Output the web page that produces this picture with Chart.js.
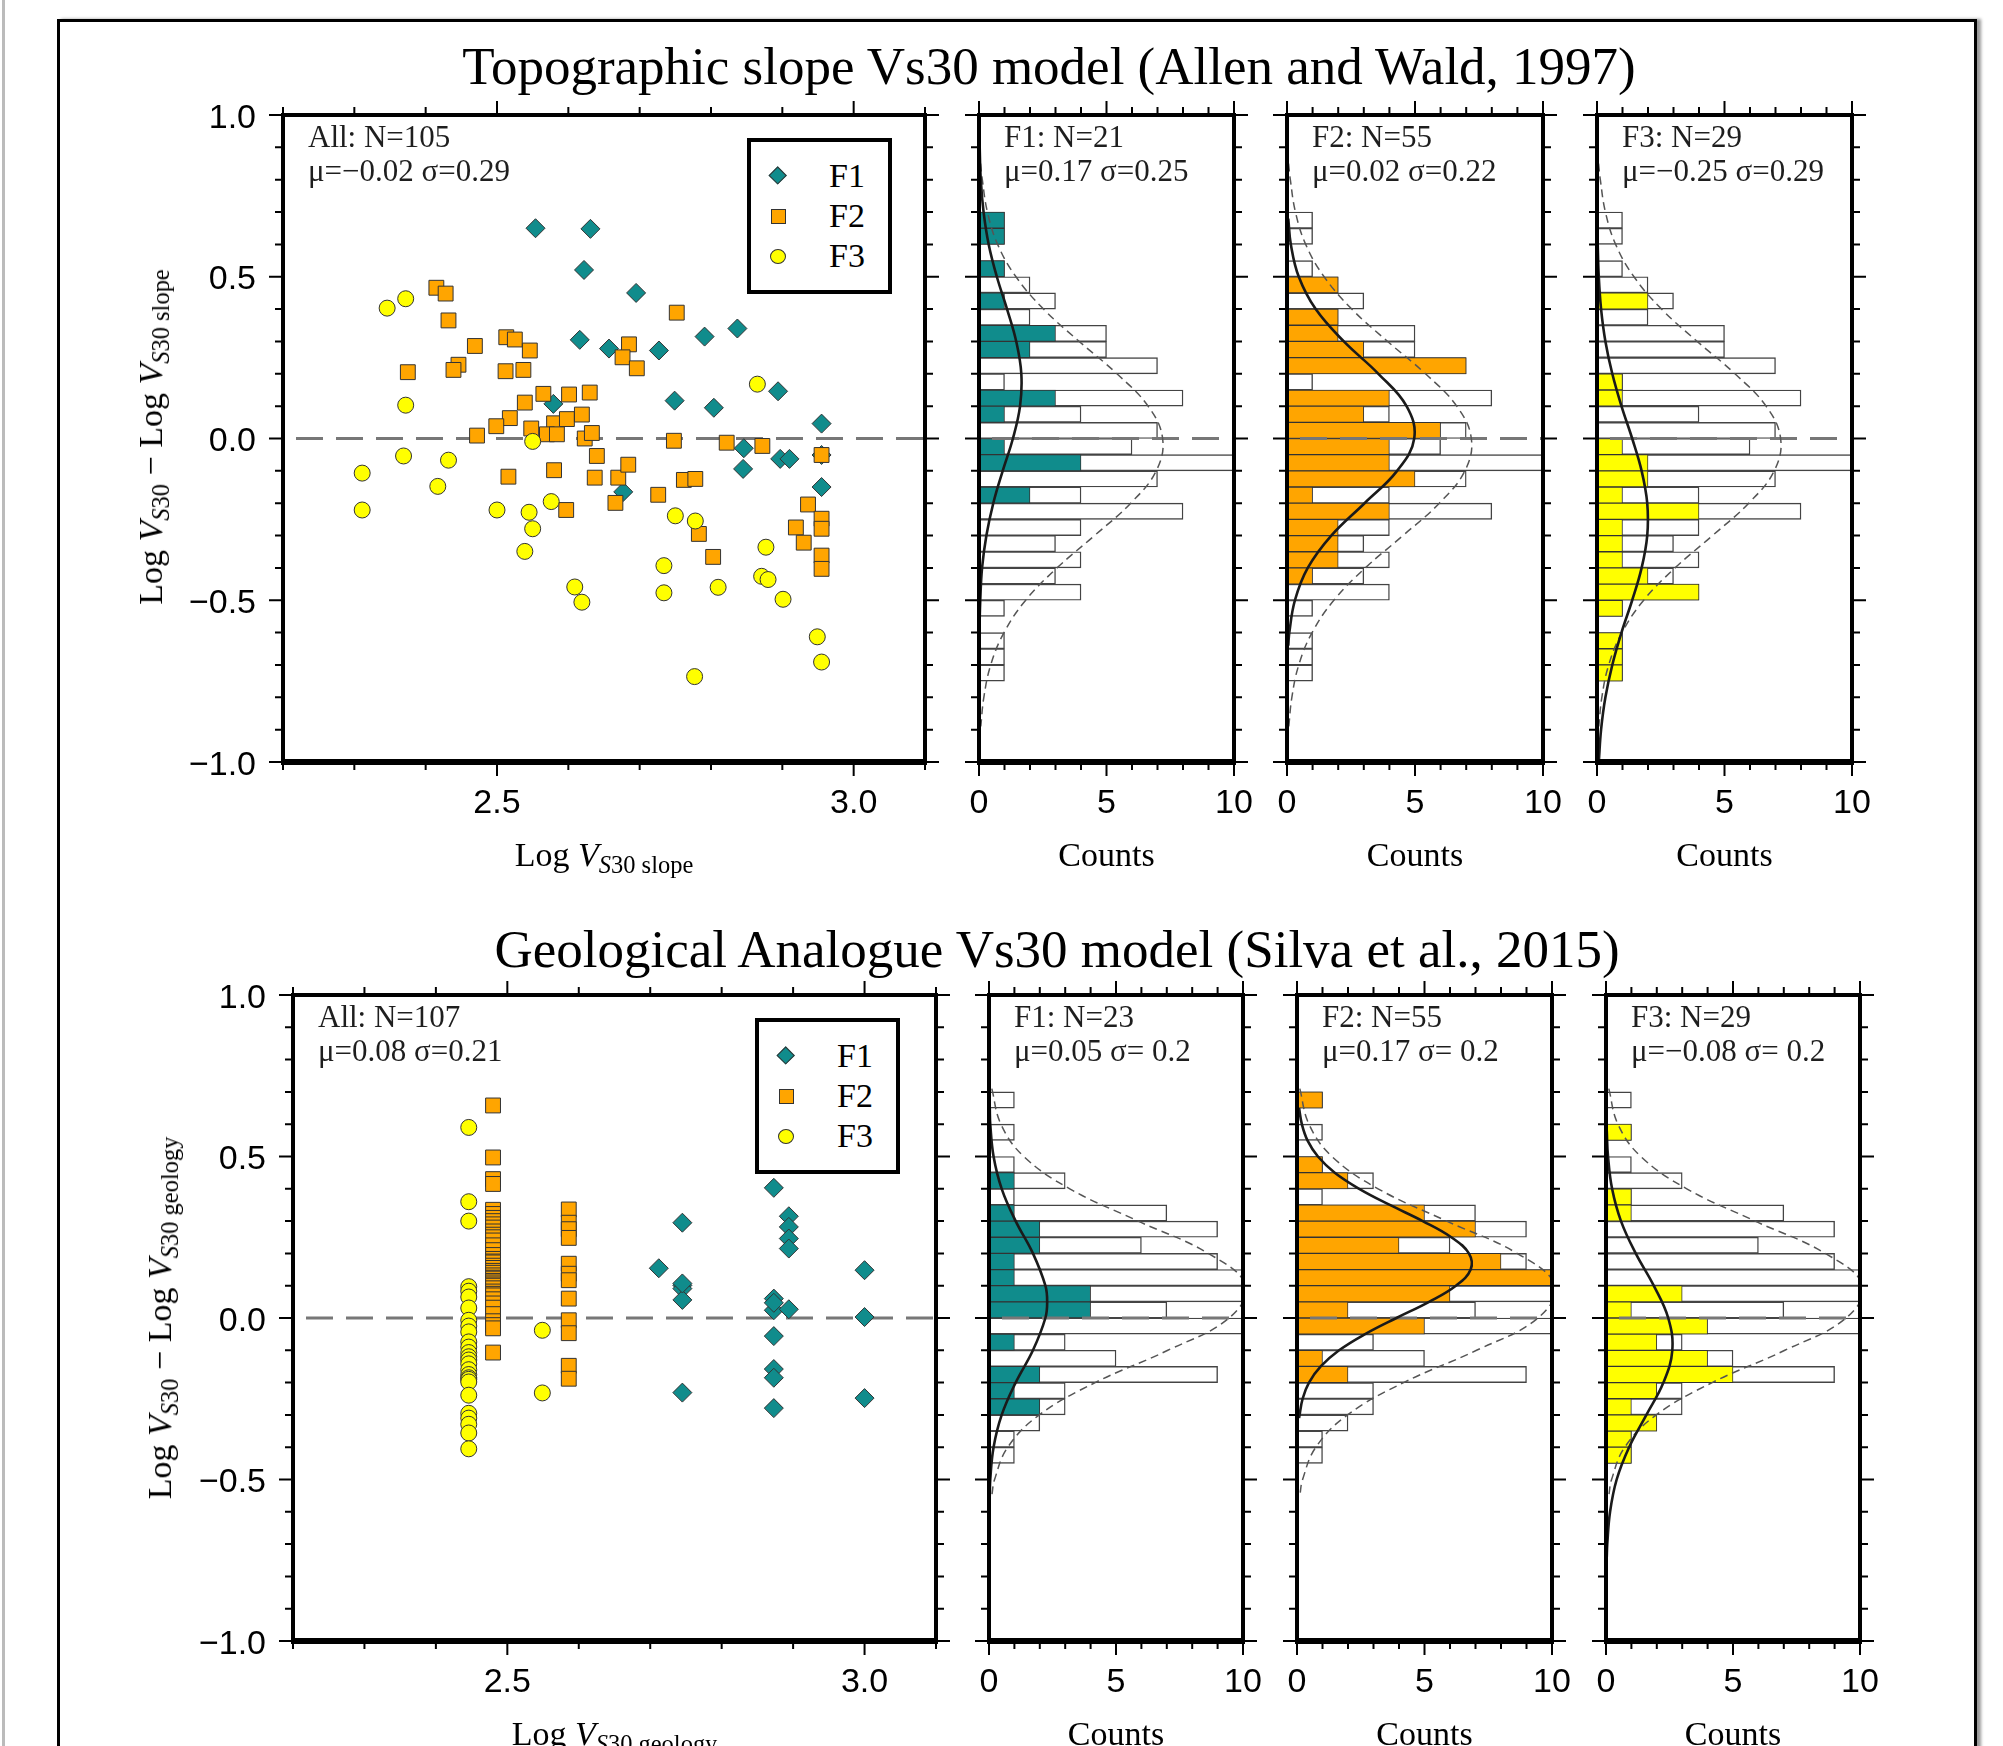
<!DOCTYPE html>
<html lang="en">
<head>
<meta charset="utf-8">
<title>Vs30 residuals by site class</title>
<script src="https://cdn.jsdelivr.net/npm/chart.js@4.4.1/dist/chart.umd.min.js"></script>
<style>
  html, body { margin: 0; padding: 0; background: #fff; }
  body { position: relative; width: 2003px; height: 1746px; overflow: hidden;
         font-family: "Liberation Serif", "Times New Roman", serif; color: #000; }
  canvas { position: absolute; }
  .t { position: absolute; white-space: pre; }
  .title { font-size: 53px; line-height: 53px; transform: translateX(-50%); }
  .stat { font-size: 31px; line-height: 34px; color: #1e1e1e; }
  .axis { font-size: 34px; line-height: 34px; transform: translateX(-50%); }
  .ytitle { font-size: 34px; line-height: 34px; transform: translate(-50%, -50%) rotate(-90deg); }
  sub { font-size: 0.72em; vertical-align: -0.3em; line-height: 0; }
  .legbox { position: absolute; border: 4px solid #000; box-sizing: border-box; background: #fff; }
  .leglab { font-size: 34px; line-height: 34px; }
  .mk { position: absolute; box-sizing: border-box; border: 1px solid #333; }
  #sheet { position: absolute; left: 57px; top: 19px; width: 1920px; height: 1800px;
           border: 3px solid #000; box-sizing: border-box; box-shadow: 4px 0 3px #999; }
  #edge { position: absolute; left: 2px; top: 0; width: 3px; height: 1746px; background: #bbb; }
</style>
</head>
<body>
<div id="edge"></div>
<div id="sheet"></div>
<script>
// ---------- upper row: topographic slope model ----------
const slopeF1X = [2.554, 2.631, 2.622, 2.616, 2.657, 2.579, 2.695, 2.727, 2.791, 2.837, 2.749, 2.804, 2.894, 2.955, 2.846, 2.845, 2.897, 2.910, 2.955, 2.955, 2.677];
const slopeF1Y = [0.650, 0.648, 0.521, 0.305, 0.278, 0.107, 0.450, 0.272, 0.315, 0.340, 0.117, 0.095, 0.146, 0.046, -0.030, -0.094, -0.063, -0.063, -0.051, -0.150, -0.165];
const slopeF2X = [2.415, 2.428, 2.432, 2.469, 2.513, 2.525, 2.546, 2.375, 2.446, 2.439, 2.512, 2.537, 2.539, 2.565, 2.601, 2.630, 2.518, 2.499, 2.472, 2.548, 2.580, 2.598, 2.619, 2.570, 2.584, 2.623, 2.633, 2.640, 2.516, 2.580, 2.637, 2.670, 2.597, 2.666,
  2.752, 2.685, 2.676, 2.696, 2.748, 2.822, 2.872, 2.684, 2.762, 2.778, 2.726, 2.783, 2.803, 2.955, 2.936, 2.955, 2.955, 2.919, 2.930, 2.955, 2.955];
const slopeF2Y = [0.466, 0.448, 0.365, 0.286, 0.313, 0.306, 0.272, 0.205, 0.228, 0.212, 0.208, 0.212, 0.111, 0.138, 0.136, 0.142, 0.063, 0.038, 0.009, 0.031, 0.047, 0.060, 0.074, 0.013, 0.013, 0.000, 0.017, -0.054, -0.118, -0.098, -0.121, -0.121, -0.221, -0.199,
  0.389, 0.291, 0.251, 0.217, -0.007, -0.013, -0.023, -0.081, -0.128, -0.125, -0.174, -0.295, -0.366, -0.051, -0.204, -0.248, -0.279, -0.275, -0.322, -0.362, -0.403];
const slopeF3X = [2.346, 2.372, 2.372, 2.369, 2.432, 2.311, 2.417, 2.311, 2.500, 2.545, 2.550, 2.539, 2.550, 2.576, 2.609, 2.619, 2.865, 2.750, 2.778, 2.877, 2.734, 2.734, 2.810, 2.871, 2.880, 2.901, 2.949, 2.955, 2.777];
const slopeF3Y = [0.403, 0.432, 0.103, -0.054, -0.067, -0.107, -0.148, -0.221, -0.221, -0.228, -0.279, -0.349, -0.009, -0.195, -0.459, -0.506, 0.168, -0.239, -0.255, -0.336, -0.393, -0.477, -0.460, -0.426, -0.436, -0.497, -0.613, -0.691, -0.736];

// histogram bins (centres), counts: all sites and per class
const slopeBins = [0.675, 0.625, 0.575, 0.525, 0.475, 0.425, 0.375, 0.325, 0.275, 0.225, 0.175, 0.125, 0.075, 0.025, -0.025, -0.075, -0.125, -0.175, -0.225, -0.275, -0.325, -0.375, -0.425, -0.475, -0.525, -0.575, -0.625, -0.675, -0.725];
const slopeAllCounts = [1, 1, 0, 1, 2, 3, 2, 5, 5, 7, 1, 8, 4, 7, 6, 11, 7, 4, 8, 4, 3, 4, 3, 4, 1, 0, 1, 1, 1];
const slopeF1Counts = [1, 1, 0, 1, 0, 1, 0, 3, 2, 0, 0, 3, 1, 0, 1, 4, 0, 2, 0, 0, 0, 0, 0, 0, 0, 0, 0, 0, 0];
const slopeF2Counts = [0, 0, 0, 0, 2, 0, 2, 2, 3, 7, 0, 4, 3, 6, 4, 4, 5, 1, 4, 2, 2, 2, 1, 0, 0, 0, 0, 0, 0];
const slopeF3Counts = [0, 0, 0, 0, 0, 2, 0, 0, 0, 0, 1, 1, 0, 0, 1, 2, 2, 1, 4, 1, 1, 1, 2, 4, 1, 0, 1, 1, 1];

// fitted normal curves (residual, count)
const slopeAllCurveY = [0.85, 0.8, 0.7, 0.6, 0.5, 0.4, 0.3, 0.2, 0.1, 0.0, -0.1, -0.2, -0.3, -0.4, -0.5, -0.6, -0.7, -0.8, -0.89];
const slopeAllCurveN = [0.06, 0.13, 0.33, 0.73, 1.45, 2.53, 3.93, 5.41, 6.63, 7.20, 6.95, 5.95, 4.53, 3.06, 1.83, 0.98, 0.46, 0.19, 0.07];
const slopeF1CurveY = [0.92, 0.8, 0.7, 0.6, 0.5, 0.4, 0.3, 0.2, 0.1, 0.0, -0.1, -0.2, -0.3, -0.4, -0.5, -0.58];
const slopeF1CurveN = [0.02, 0.07, 0.18, 0.38, 0.70, 1.10, 1.46, 1.66, 1.61, 1.33, 0.93, 0.56, 0.29, 0.12, 0.05, 0.02];
const slopeF2CurveY = [0.68, 0.6, 0.5, 0.4, 0.3, 0.2, 0.1, 0.0, -0.1, -0.2, -0.3, -0.4, -0.5, -0.6, -0.64];
const slopeF2CurveN = [0.05, 0.15, 0.46, 1.12, 2.22, 3.57, 4.67, 4.97, 4.30, 3.03, 1.73, 0.81, 0.31, 0.09, 0.05];
const slopeF3CurveY = [0.62, 0.5, 0.4, 0.3, 0.2, 0.1, 0.0, -0.1, -0.2, -0.3, -0.4, -0.5, -0.6, -0.7, -0.8, -0.9, -1.0];
const slopeF3CurveN = [0.02, 0.07, 0.16, 0.33, 0.60, 0.96, 1.38, 1.75, 1.97, 1.97, 1.75, 1.38, 0.96, 0.60, 0.33, 0.16, 0.07];

// ---------- lower row: geological analogue model ----------
const geoF1X = [2.712, 2.745, 2.745, 2.745, 2.745, 2.745, 2.873, 2.894, 2.894, 2.894, 2.894, 2.873, 2.873, 2.894, 2.873, 2.873, 2.873, 2.873, 3.0, 3.0, 3.0, 2.873, 2.745];
const geoF1Y = [0.154, 0.295, 0.101, 0.091, 0.056, -0.231, 0.403, 0.315, 0.282, 0.246, 0.215, 0.060, 0.024, 0.027, -0.056, -0.158, -0.185, -0.279, 0.148, 0.003, -0.248, 0.047, 0.107];
const geoF2X = [2.48, 2.48, 2.48, 2.48, 2.48, 2.48, 2.48, 2.48, 2.48, 2.48, 2.48, 2.48, 2.48, 2.48, 2.48, 2.48, 2.48, 2.48, 2.48, 2.48, 2.48, 2.48,
  2.48, 2.48, 2.48, 2.48, 2.48, 2.48, 2.48, 2.48, 2.48, 2.48, 2.48, 2.48, 2.48, 2.48, 2.48, 2.48, 2.48, 2.48, 2.48, 2.48, 2.48,
  2.586, 2.586, 2.586, 2.586, 2.586, 2.586, 2.586, 2.586, 2.586, 2.586, 2.586, 2.586];
const geoF2Y = [0.658, 0.497, 0.430, 0.415, 0.335, 0.322, 0.310, 0.300, 0.290, 0.280, 0.268, 0.258, 0.250, 0.240, 0.225, 0.210, 0.195, 0.183, 0.175, 0.172, 0.162, 0.155,
  0.146, 0.140, 0.132, 0.125, 0.122, 0.115, 0.110, 0.104, 0.100, 0.092, 0.082, 0.075, 0.070, 0.058, 0.045, 0.032, 0.012, -0.010, -0.022, -0.032, -0.107,
  0.336, 0.295, 0.275, 0.248, 0.168, 0.137, 0.117, 0.060, -0.007, -0.047, -0.148, -0.188];
const geoF3X = [2.446, 2.446, 2.446, 2.446, 2.446, 2.446, 2.446, 2.446, 2.446, 2.446, 2.446, 2.446, 2.446, 2.446,
  2.446, 2.446, 2.446, 2.446, 2.446, 2.446, 2.446, 2.446, 2.446, 2.446, 2.446, 2.446, 2.446, 2.549, 2.549];
const geoF3Y = [0.59, 0.36, 0.30, 0.097, 0.083, 0.065, 0.031, -0.007, -0.025, -0.043, -0.074, -0.09, -0.107, -0.12,
  -0.13, -0.142, -0.16, -0.175, -0.185, -0.19, -0.198, -0.239, -0.295, -0.31, -0.329, -0.356, -0.405, -0.038, -0.232];

const geoBins = [0.675, 0.625, 0.575, 0.525, 0.475, 0.425, 0.375, 0.325, 0.275, 0.225, 0.175, 0.125, 0.075, 0.025, -0.025, -0.075, -0.125, -0.175, -0.225, -0.275, -0.325, -0.375, -0.425];
const geoAllCounts = [1, 0, 1, 0, 1, 3, 1, 7, 9, 6, 9, 11, 13, 7, 11, 3, 5, 9, 3, 3, 2, 1, 1];
const geoF1Counts = [0, 0, 0, 0, 0, 1, 0, 1, 2, 2, 1, 1, 4, 4, 0, 1, 0, 2, 1, 2, 0, 0, 0];
const geoF2Counts = [1, 0, 0, 0, 1, 2, 0, 5, 7, 4, 8, 11, 6, 2, 5, 0, 1, 2, 0, 0, 0, 0, 0];
const geoF3Counts = [0, 0, 1, 0, 0, 0, 1, 1, 0, 0, 0, 0, 3, 1, 4, 2, 4, 5, 2, 1, 2, 1, 1];

const geoAllCurveY = [0.71, 0.6, 0.5, 0.4, 0.3, 0.2, 0.1, 0.0, -0.1, -0.2, -0.3, -0.4, -0.5, -0.55];
const geoAllCurveN = [0.11, 0.47, 1.37, 3.18, 5.87, 8.63, 10.11, 9.45, 7.04, 4.18, 1.98, 0.74, 0.22, 0.11];
const geoF1CurveY = [0.65, 0.6, 0.5, 0.4, 0.3, 0.2, 0.1, 0.05, 0.0, -0.1, -0.2, -0.3, -0.4, -0.5, -0.55];
const geoF1CurveN = [0.03, 0.05, 0.18, 0.50, 1.05, 1.73, 2.22, 2.29, 2.22, 1.73, 1.05, 0.50, 0.18, 0.05, 0.03];
const geoF2CurveY = [0.65, 0.6, 0.55, 0.5, 0.45, 0.4, 0.35, 0.3, 0.25, 0.2, 0.15, 0.1, 0.05, 0.0, -0.05, -0.1, -0.15, -0.2, -0.25, -0.31];
const geoF2CurveN = [0.08, 0.19, 0.41, 0.82, 1.48, 2.44, 3.64, 4.93, 6.05, 6.74, 6.81, 6.23, 5.18, 3.90, 2.67, 1.65, 0.93, 0.47, 0.22, 0.08];
const geoF3CurveY = [0.58, 0.5, 0.4, 0.3, 0.2, 0.1, 0.0, -0.1, -0.2, -0.3, -0.4, -0.5, -0.6, -0.7, -0.74];
const geoF3CurveN = [0.03, 0.08, 0.24, 0.59, 1.17, 1.88, 2.45, 2.61, 2.26, 1.59, 0.91, 0.42, 0.16, 0.05, 0.03];

// ---------- axes ----------
const vsRange = [2.2, 3.1];
const countRange = [0, 10];
const residRange = [-1, 1];
const vsTickValues = [2.5, 3.0];
const vsTickLabels = ["2.5", "3.0"];
const countTickValues = [0, 5, 10];
const countTickLabels = ["0", "5", "10"];
const residTickValues = [1, 0.5, 0, -0.5, -1];
const residTickLabels = ["1.0", "0.5", "0.0", "\u22120.5", "\u22121.0"];

const TEAL = "#108c8c";
const ORANGE = "#ffa500";
const YELLOW = "#ffff00";

Chart.defaults.animation = false;
Chart.defaults.events = [];
Chart.defaults.plugins.legend.display = false;
Chart.defaults.plugins.tooltip.enabled = false;

// GMT-like frame: thick box, ticks outside on all four sides, numeric labels
const gmtFrame = {
  id: "gmtFrame",
  afterDraw(chart, _args, o) {
    const ctx = chart.ctx, a = chart.chartArea;
    const sx = chart.scales.x, sy = chart.scales.y;
    const isMajor = (v, step) => Math.abs(v / step - Math.round(v / step)) < 1e-6;
    ctx.save();
    ctx.strokeStyle = "#000";
    ctx.lineWidth = 2;
    ctx.beginPath();
    const nx = Math.round((sx.max - sx.min) / o.xMinor);
    for (let k = 0; k <= nx; k++) {
      const v = sx.min + k * o.xMinor;
      const p = sx.getPixelForValue(v);
      const len = isMajor(v, o.xMajor) ? 14 : 8;
      ctx.moveTo(p, a.top); ctx.lineTo(p, a.top - len);
      ctx.moveTo(p, a.bottom); ctx.lineTo(p, a.bottom + len);
    }
    const ny = Math.round((sy.max - sy.min) / 0.1);
    for (let k = 0; k <= ny; k++) {
      const v = sy.min + k * 0.1;
      const p = sy.getPixelForValue(v);
      const len = isMajor(v, 0.5) ? 14 : 8;
      ctx.moveTo(a.left, p); ctx.lineTo(a.left - len, p);
      ctx.moveTo(a.right, p); ctx.lineTo(a.right + len, p);
    }
    ctx.stroke();

    ctx.lineWidth = 4;
    ctx.strokeRect(a.left, a.top, a.right - a.left, a.bottom - a.top);
    ctx.lineWidth = 6;
    ctx.beginPath();
    ctx.moveTo(a.left - 2, a.bottom); ctx.lineTo(a.right + 2, a.bottom);
    ctx.stroke();

    ctx.fillStyle = "#000";
    ctx.font = '34px "Liberation Sans", Arial, sans-serif';
    ctx.textBaseline = "alphabetic";
    ctx.textAlign = "center";
    o.xValues.forEach((v, i) => ctx.fillText(o.xLabels[i], sx.getPixelForValue(v), a.bottom + 51));
    if (o.yLabels) {
      ctx.textAlign = "right";
      o.yValues.forEach((v, i) => ctx.fillText(o.yLabels[i], a.left - 27, sy.getPixelForValue(v) + 12.5));
    }
    ctx.restore();
  }
};

function makeCanvas(fx, fy, m) {
  const c = document.createElement("canvas");
  c.width = fx[1] - fx[0] + m.l + m.r;
  c.height = fy[1] - fy[0] + m.t + m.b;
  c.style.left = (fx[0] - m.l) + "px";
  c.style.top = (fy[0] - m.t) + "px";
  c.style.width = c.width + "px";
  c.style.height = c.height + "px";
  document.body.appendChild(c);
  return c;
}

const pairs = (xs, ys) => xs.map((x, i) => ({ x: x, y: ys[i] }));
const zeroLine = (range) => ({
  type: "line",
  data: [{ x: range[0], y: 0 }, { x: range[1], y: 0 }],
  borderColor: "#777", borderWidth: 3, borderDash: [27, 13], borderDashOffset: 27,
  pointRadius: 0, fill: false
});

function scatterPanel(fx, fy, f1x, f1y, f2x, f2y, f3x, f3y) {
  const m = { l: 110, r: 40, t: 30, b: 75 };
  const canvas = makeCanvas(fx, fy, m);
  const marker = { pointBorderColor: "#333", pointBorderWidth: 1, showLine: false };
  return new Chart(canvas, {
    type: "scatter",
    data: {
      datasets: [
        Object.assign({ label: "F1", data: pairs(f1x, f1y), pointStyle: "rectRot", pointRadius: 9.5, pointBackgroundColor: TEAL, order: 3 }, marker),
        Object.assign({ label: "F2", data: pairs(f2x, f2y), pointStyle: "rect", pointRadius: 10.5, pointBackgroundColor: ORANGE, order: 2 }, marker),
        Object.assign({ label: "F3", data: pairs(f3x, f3y), pointStyle: "circle", pointRadius: 8, pointBackgroundColor: YELLOW, order: 1 }, marker),
        Object.assign(zeroLine(vsRange), { order: 4 })
      ]
    },
    options: {
      responsive: false,
      layout: { padding: { left: m.l, right: m.r, top: m.t, bottom: m.b } },
      scales: {
        x: { type: "linear", min: vsRange[0], max: vsRange[1], display: false, offset: false },
        y: { type: "linear", min: residRange[0], max: residRange[1], display: false, offset: false }
      },
      plugins: {
        gmtFrame: { xMinor: 0.1, xMajor: 0.5, xValues: vsTickValues, xLabels: vsTickLabels, yValues: residTickValues, yLabels: residTickLabels }
      }
    },
    plugins: [gmtFrame]
  });
}

function histPanel(fx, fy, bins, allCounts, clsCounts, clsColor, allCurveN, allCurveY, clsCurveN, clsCurveY) {
  const m = { l: 40, r: 40, t: 30, b: 75 };
  const canvas = makeCanvas(fx, fy, m);
  return new Chart(canvas, {
    type: "bar",
    data: {
      datasets: [
        { type: "line", data: pairs(clsCurveN, clsCurveY), borderColor: "#1a1a1a", borderWidth: 2.6, pointRadius: 0, tension: 0.4, fill: false, order: 0 },
        { type: "line", data: pairs(allCurveN, allCurveY), borderColor: "#555", borderWidth: 1.5, borderDash: [8, 5], pointRadius: 0, tension: 0.4, fill: false, order: 1 },
        Object.assign(zeroLine(countRange), { order: 2 }),
        { data: pairs(clsCounts, bins), backgroundColor: clsColor, borderColor: "#333", borderWidth: 1, borderSkipped: false, grouped: false, categoryPercentage: 1, barPercentage: 1, order: 3 },
        { data: pairs(allCounts, bins), backgroundColor: "#fff", borderColor: "#444", borderWidth: 1.4, borderSkipped: false, grouped: false, categoryPercentage: 1, barPercentage: 1, order: 4 }
      ]
    },
    options: {
      responsive: false,
      indexAxis: "y",
      layout: { padding: { left: m.l, right: m.r, top: m.t, bottom: m.b } },
      scales: {
        x: { type: "linear", min: countRange[0], max: countRange[1], display: false, offset: false },
        y: { type: "linear", min: residRange[0], max: residRange[1], display: false, offset: false }
      },
      plugins: {
        gmtFrame: { xMinor: 1, xMajor: 5, xValues: countTickValues, xLabels: countTickLabels }
      }
    },
    plugins: [gmtFrame]
  });
}

// panel frames in page pixels
const topY = [115, 762];
const botY = [995, 1641];
const topX = { all: [283, 925], f1: [979, 1234], f2: [1287, 1543], f3: [1597, 1852] };
const botX = { all: [293, 936], f1: [989, 1243], f2: [1297, 1552], f3: [1606, 1860] };

scatterPanel(topX.all, topY, slopeF1X, slopeF1Y, slopeF2X, slopeF2Y, slopeF3X, slopeF3Y);
histPanel(topX.f1, topY, slopeBins, slopeAllCounts, slopeF1Counts, TEAL, slopeAllCurveN, slopeAllCurveY, slopeF1CurveN, slopeF1CurveY);
histPanel(topX.f2, topY, slopeBins, slopeAllCounts, slopeF2Counts, ORANGE, slopeAllCurveN, slopeAllCurveY, slopeF2CurveN, slopeF2CurveY);
histPanel(topX.f3, topY, slopeBins, slopeAllCounts, slopeF3Counts, YELLOW, slopeAllCurveN, slopeAllCurveY, slopeF3CurveN, slopeF3CurveY);

scatterPanel(botX.all, botY, geoF1X, geoF1Y, geoF2X, geoF2Y, geoF3X, geoF3Y);
histPanel(botX.f1, botY, geoBins, geoAllCounts, geoF1Counts, TEAL, geoAllCurveN, geoAllCurveY, geoF1CurveN, geoF1CurveY);
histPanel(botX.f2, botY, geoBins, geoAllCounts, geoF2Counts, ORANGE, geoAllCurveN, geoAllCurveY, geoF2CurveN, geoF2CurveY);
histPanel(botX.f3, botY, geoBins, geoAllCounts, geoF3Counts, YELLOW, geoAllCurveN, geoAllCurveY, geoF3CurveN, geoF3CurveY);

// ---------- text ----------
function text(html, cls, left, top) {
  const d = document.createElement("div");
  d.className = "t " + cls;
  d.innerHTML = html;
  d.style.left = left + "px";
  d.style.top = top + "px";
  document.body.appendChild(d);
  return d;
}

text("Topographic slope Vs30 model (Allen and Wald, 1997)", "title", 1049, 39.6);
text("Geological Analogue Vs30 model (Silva et al., 2015)", "title", 1057, 922.6);

const topStats = [["All: N=105", "\u03bc=\u22120.02 \u03c3=0.29"], ["F1: N=21", "\u03bc=0.17 \u03c3=0.25"], ["F2: N=55", "\u03bc=0.02 \u03c3=0.22"], ["F3: N=29", "\u03bc=\u22120.25 \u03c3=0.29"]];
const botStats = [["All: N=107", "\u03bc=0.08 \u03c3=0.21"], ["F1: N=23", "\u03bc=0.05 \u03c3= 0.2"], ["F2: N=55", "\u03bc=0.17 \u03c3= 0.2"], ["F3: N=29", "\u03bc=\u22120.08 \u03c3= 0.2"]];
[topX.all, topX.f1, topX.f2, topX.f3].forEach((fx, i) => text(topStats[i].join("\n"), "stat", fx[0] + 25, topY[0] + 4.5));
[botX.all, botX.f1, botX.f2, botX.f3].forEach((fx, i) => text(botStats[i].join("\n"), "stat", fx[0] + 25, botY[0] + 4.5));

// axis titles
const mid = (fx) => (fx[0] + fx[1]) / 2;
text("Log <i>V</i><sub><i>S</i>30 slope</sub>", "axis", mid(topX.all), 837.5);
text("Log <i>V</i><sub><i>S</i>30 geology</sub>", "axis", mid(botX.all), 1716.5);
[topX.f1, topX.f2, topX.f3].forEach(fx => text("Counts", "axis", mid(fx), 837.5));
[botX.f1, botX.f2, botX.f3].forEach(fx => text("Counts", "axis", mid(fx), 1716.5));
text("Log <i>V</i><sub><i>S</i>30</sub> \u2212 Log <i>V</i><sub><i>S</i>30 slope</sub>", "ytitle", 151, 437);
text("Log <i>V</i><sub><i>S</i>30</sub> \u2212 Log <i>V</i><sub><i>S</i>30 geology</sub>", "ytitle", 160, 1318);

// legends
function legend(left, top) {
  const box = document.createElement("div");
  box.className = "legbox";
  Object.assign(box.style, { left: left + "px", top: top + "px", width: "145px", height: "156px" });
  document.body.appendChild(box);
  const cx = left + 31;
  const rows = [top + 38, top + 78, top + 118];
  const shapes = [
    { w: 13.4, h: 13.4, bg: TEAL, extra: { transform: "rotate(45deg)" } },
    { w: 15, h: 15, bg: ORANGE, extra: {} },
    { w: 16, h: 15, bg: YELLOW, extra: { borderRadius: "50%" } }
  ];
  ["F1", "F2", "F3"].forEach((lab, i) => {
    const s = shapes[i];
    const mk = document.createElement("div");
    mk.className = "mk";
    Object.assign(mk.style, { left: (cx - s.w / 2) + "px", top: (rows[i] - s.h / 2) + "px", width: s.w + "px", height: s.h + "px", background: s.bg }, s.extra);
    document.body.appendChild(mk);
    text(lab, "leglab", left + 82, rows[i] - 17);
  });
}
legend(747, 138);
legend(755, 1018);
</script>
</body>
</html>
